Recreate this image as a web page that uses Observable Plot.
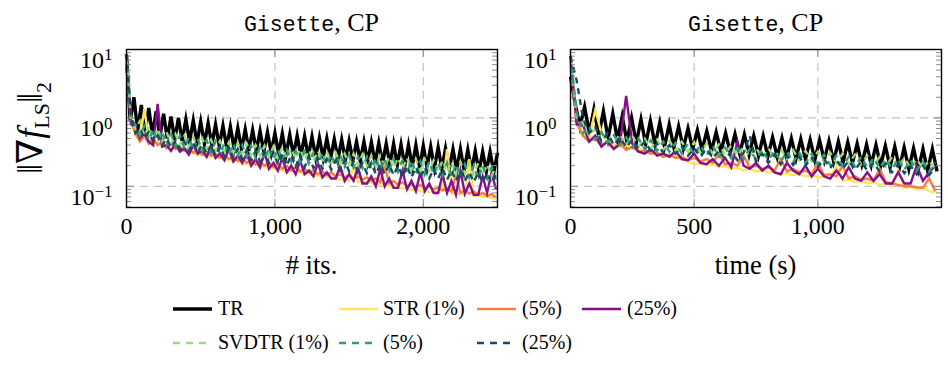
<!DOCTYPE html>
<html><head><meta charset="utf-8">
<script src="https://cdn.jsdelivr.net/npm/d3@7"></script>
<script src="https://cdn.jsdelivr.net/npm/@observablehq/plot@0.6"></script>
<style>
body{margin:0;background:#fff;}
#root{position:relative;width:948px;height:372px;color:#000;overflow:hidden;}
.abs{position:absolute;white-space:nowrap;}
.title{font-size:26px;line-height:30px;transform:translateX(-50%);}
.axlab{font-size:26.5px;line-height:30px;transform:translateX(-50%);}
.leg{font-size:20px;line-height:24px;}
svg.sw{position:absolute;overflow:visible;}
</style></head>
<body><div id="root"></div>
<script>
// ---------- data ----------
const SERIES_NAMES = ["TR","STR (1%)","STR (5%)","STR (25%)","SVDTR (1%)","SVDTR (5%)","SVDTR (25%)"];
const COLORS = ["#000000","#fde55e","#ff7b3a","#84108a","#a3d96b","#2c9e80","#13505f"];
const LEGEND_TEXT = ["TR","STR (1%)","(5%)","(25%)","SVDTR (1%)","(5%)","(25%)"];
const Y_MAJOR_TICKS = [0.1, 1, 10];
const Y_MINOR_TICKS = [0.05,0.06,0.07,0.08,0.09,0.2,0.3,0.4,0.5,0.6,0.7,0.8,0.9,2,3,4,5,6,7,8,9];
const X_TICKS_ITS = [0, 1000, 2000];
const X_TICKS_TIME = [0, 500, 1000];
// sampling steps (iterations / seconds between logged points)
const STEP_TR_ITS = 25, STEP_ITS = 30, STEP_TR_TIME = 19, STEP_TIME = 25;

// ----- left panel: vs iterations -----
const TR_ITS = [8.5,0.9,2.0,0.65,1.55,0.6,1.4,0.56,1.25,0.53,1.15,0.5,1.05,0.48,1.0,0.46,0.95,0.45,0.92,0.43,
0.88,0.42,0.84,0.40,0.80,0.39,0.77,0.37,0.74,0.36,0.71,0.35,0.68,0.34,0.66,0.33,0.64,0.32,0.62,0.31,
0.60,0.30,0.59,0.29,0.57,0.285,0.55,0.28,0.54,0.27,0.53,0.265,0.51,0.26,0.50,0.255,0.49,0.25,0.48,0.245,
0.46,0.24,0.45,0.235,0.45,0.23,0.44,0.22,0.43,0.215,0.42,0.21,0.42,0.205,0.41,0.20,0.40,0.195,0.40,0.19,
0.39,0.19,0.38,0.185,0.37,0.18,0.36,0.18,0.35,0.175,0.35,0.17,0.34,0.17,0.33,0.165,0.32,0.165,0.32,0.16,0.31];
const STR1_ITS = [7.5,0.85,0.55,0.48,1.35,0.5,0.42,0.45,0.38,0.4,0.35,0.37,0.33,0.34,0.3,0.31,0.28,0.3,0.27,0.28,
0.26,0.27,0.24,0.25,0.23,0.24,0.21,0.22,0.2,0.21,0.19,0.2,0.18,0.185,0.17,0.175,0.16,0.17,0.155,0.16,
0.15,0.155,0.14,0.145,0.135,0.14,0.13,0.135,0.125,0.13,0.12,0.2,0.115,0.12,0.11,0.115,0.105,0.11,0.1,0.105,
0.095,0.1,0.092,0.095,0.088,0.09,0.085,0.088,0.082,0.085,0.08,0.09,0.35,0.08,0.076,0.08,0.075,0.25,0.072,0.074,
0.07,0.072,0.067,0.065];
const STR5_ITS = [7.0,0.9,0.6,0.45,0.55,0.42,0.5,0.4,0.45,0.36,0.42,0.35,0.38,0.33,0.36,0.31,0.34,0.29,0.32,0.28,
0.3,0.26,0.29,0.25,0.27,0.235,0.26,0.22,0.25,0.21,0.23,0.2,0.22,0.19,0.21,0.18,0.2,0.17,0.19,0.165,
0.18,0.16,0.17,0.15,0.165,0.145,0.16,0.14,0.15,0.135,0.145,0.13,0.14,0.125,0.135,0.12,0.13,0.115,0.2,0.11,
0.12,0.105,0.115,0.1,0.11,0.097,0.105,0.093,0.1,0.09,0.096,0.087,0.093,0.084,0.15,0.08,0.088,0.078,0.084,0.075,
0.08,0.072,0.077,0.07];
const STR25_ITS = [5.5,0.8,0.75,0.5,0.6,0.45,0.4,1.6,0.38,0.4,0.33,0.42,0.32,0.36,0.29,0.4,0.3,0.33,0.27,0.38,
0.26,0.3,0.24,0.35,0.23,0.28,0.22,0.3,0.2,0.25,0.19,0.32,0.18,0.22,0.17,0.26,0.16,0.2,0.15,0.24,
0.15,0.17,0.14,0.22,0.135,0.16,0.13,0.13,0.2,0.12,0.15,0.12,0.19,0.11,0.11,0.14,0.1,0.18,0.1,0.13,
0.095,0.095,0.17,0.09,0.12,0.085,0.16,0.085,0.11,0.08,0.08,0.15,0.08,0.12,0.075,0.17,0.078,0.11,0.075,0.075,
0.14,0.08,0.16,0.09];
const SVD1_ITS = [7.5,1.0,0.7,0.9,0.55,0.75,0.5,0.7,0.45,0.62,0.42,0.58,0.4,0.55,0.38,0.52,0.36,0.5,0.35,0.48,
0.33,0.46,0.32,0.44,0.31,0.43,0.3,0.42,0.29,0.4,0.28,0.39,0.27,0.38,0.26,0.37,0.255,0.36,0.25,0.35,
0.24,0.34,0.235,0.33,0.23,0.32,0.22,0.31,0.215,0.3,0.21,0.3,0.205,0.29,0.2,0.28,0.195,0.28,0.19,0.27,
0.185,0.26,0.18,0.26,0.175,0.25,0.17,0.25,0.17,0.24,0.165,0.24,0.16,0.23,0.155,0.23,0.155,0.22,0.15,0.22,
0.145,0.21,0.14,0.2];
const SVD5_ITS = [8.0,0.95,0.8,0.55,0.75,0.48,0.68,0.45,0.62,0.41,0.58,0.38,0.55,0.36,0.52,0.34,0.5,0.33,0.47,0.31,
0.45,0.3,0.43,0.29,0.42,0.28,0.4,0.27,0.39,0.26,0.37,0.25,0.36,0.245,0.35,0.24,0.34,0.23,0.33,0.225,
0.32,0.22,0.31,0.21,0.3,0.205,0.29,0.2,0.29,0.195,0.28,0.19,0.27,0.185,0.27,0.18,0.26,0.175,0.25,0.17,
0.25,0.165,0.24,0.16,0.24,0.155,0.23,0.15,0.23,0.15,0.22,0.145,0.22,0.14,0.21,0.14,0.21,0.135,0.2,0.13,
0.2,0.13,0.19,0.125];
const SVD25_ITS = [8.5,1.1,0.6,0.7,0.5,0.62,0.45,0.55,0.4,0.5,0.37,0.47,0.35,0.45,0.33,0.43,0.31,0.41,0.3,0.4,
0.28,0.38,0.27,0.37,0.26,0.35,0.25,0.34,0.24,0.33,0.23,0.32,0.22,0.31,0.21,0.3,0.2,0.29,0.195,0.28,
0.19,0.27,0.185,0.26,0.18,0.25,0.175,0.24,0.17,0.24,0.165,0.23,0.16,0.22,0.155,0.22,0.15,0.21,0.15,0.21,
0.145,0.2,0.14,0.2,0.135,0.19,0.135,0.19,0.13,0.18,0.13,0.18,0.125,0.17,0.12,0.17,0.12,0.16,0.115,0.16,
0.115,0.155,0.11,0.15];

// ----- right panel: vs time (s) -----
const TR_TIME = [4.0,1.6,0.75,1.45,0.6,1.35,0.55,1.25,0.5,1.15,0.48,1.05,0.45,1.0,0.43,0.95,0.41,0.9,0.4,0.85,
0.38,0.8,0.37,0.75,0.36,0.7,0.35,0.66,0.34,0.64,0.33,0.62,0.32,0.6,0.31,0.58,0.3,0.57,0.29,0.55,
0.28,0.54,0.275,0.52,0.27,0.51,0.26,0.5,0.255,0.49,0.25,0.48,0.245,0.47,0.24,0.46,0.23,0.45,0.225,0.44,
0.22,0.42,0.21,0.41,0.205,0.4,0.2,0.39,0.19,0.38,0.185,0.37,0.18,0.36,0.175,0.35,0.17,0.35,0.165];
const STR1_TIME = [7.0,0.9,0.6,0.5,1.3,0.6,0.45,0.42,0.38,0.4,0.35,0.36,0.32,0.33,0.3,0.3,0.27,0.28,0.25,0.23,
0.21,0.22,0.2,0.21,0.19,0.2,0.18,0.185,0.17,0.18,0.165,0.17,0.16,0.165,0.15,0.155,0.145,0.15,0.14,0.145,
0.135,0.14,0.13,0.2,0.12,0.125,0.115,0.12,0.11,0.115,0.105,0.11,0.1,0.17,0.095,0.1,0.09,0.095,0.085,0.08];
const STR5_TIME = [6.5,0.85,0.55,0.45,0.5,0.4,0.45,0.36,0.42,0.34,0.38,0.32,0.33,0.3,0.31,0.27,0.29,0.26,0.27,0.24,
0.26,0.23,0.25,0.22,0.3,0.21,0.22,0.2,0.28,0.19,0.2,0.18,0.19,0.17,0.25,0.165,0.18,0.16,0.17,0.15,
0.22,0.145,0.15,0.14,0.2,0.13,0.14,0.125,0.13,0.12,0.18,0.115,0.11,0.105,0.1,0.1,0.097,0.095,0.13,0.085];
const STR25_TIME = [8.0,0.8,0.8,0.45,0.55,0.38,0.45,0.35,0.42,2.1,0.42,0.32,0.3,0.35,0.28,0.3,0.27,0.33,0.25,0.24,
0.3,0.22,0.21,0.25,0.2,0.26,0.19,0.45,0.2,0.18,0.22,0.17,0.2,0.16,0.15,0.22,0.17,0.15,0.2,0.14,
0.18,0.14,0.13,0.17,0.13,0.19,0.13,0.12,0.16,0.12,0.15,0.11,0.11,0.16,0.11,0.11,0.2,0.12,0.16,0.2];
const SVD1_TIME = [7.5,1.0,0.85,0.55,0.7,0.45,0.6,0.42,0.58,0.4,0.55,0.38,0.5,0.36,0.48,0.34,0.46,0.33,0.45,0.32,
0.44,0.31,0.42,0.3,0.41,0.29,0.4,0.28,0.38,0.27,0.37,0.26,0.36,0.26,0.35,0.25,0.34,0.24,0.33,0.235,
0.32,0.23,0.31,0.22,0.3,0.215,0.29,0.21,0.28,0.2,0.27,0.195,0.27,0.19,0.26,0.185,0.25,0.18,0.24,0.18];
const SVD5_TIME = [8.0,1.2,0.6,0.75,0.48,0.62,0.44,0.56,0.4,0.52,0.37,0.5,0.35,0.47,0.33,0.45,0.32,0.43,0.3,0.42,
0.29,0.4,0.28,0.39,0.27,0.37,0.26,0.36,0.25,0.35,0.245,0.34,0.24,0.33,0.23,0.32,0.225,0.31,0.22,0.3,
0.21,0.29,0.205,0.28,0.2,0.27,0.195,0.27,0.19,0.26,0.185,0.25,0.18,0.25,0.175,0.24,0.17,0.23,0.165,0.22];
const SVD25_TIME = [8.0,3.5,1.0,0.6,0.75,0.45,0.6,0.4,0.52,0.37,0.48,0.35,0.45,0.33,0.42,0.31,0.4,0.3,0.38,0.28,
0.36,0.27,0.35,0.26,0.33,0.25,0.32,0.24,0.31,0.55,0.23,0.3,0.22,0.29,0.21,0.28,0.205,0.27,0.2,0.26,
0.19,0.25,0.185,0.24,0.18,0.235,0.175,0.23,0.17,0.22,0.165,0.215,0.16,0.21,0.155,0.2,0.15,0.2,0.145,0.19];

// ---------- build ----------
const SERIF = '"Liberation Serif", Tinos, "Times New Roman", "DejaVu Serif", serif';
const MONO = '"Liberation Mono", Cousine, "Courier New", "DejaVu Sans Mono", monospace';
const toPts = (vals, step) => vals.map((v, i) => ({x: i * step, y: v}));
const DASH = "6 5";
const GRID = {stroke: "#c4c4c4", strokeOpacity: 1, strokeDasharray: "8 6", strokeWidth: 1.2};
const TICK = {stroke: "#8c8c8c", strokeWidth: 1};

function lineMarks(list) {
  return list.map(([vals, step], k) => Plot.line(toPts(vals, step), {
    x: "x", y: "y", stroke: COLORS[k],
    strokeWidth: k === 0 ? 3.4 : 2.4,
    strokeDasharray: k >= 4 ? DASH : null,
    strokeLinejoin: "miter", strokeMiterlimit: 6, strokeLinecap: "butt"
  }));
}

function panel({xDomain, xTicks, list, width, marginLeft, marginRight}) {
  const H = 290, MT = 49, MB = 83;
  const W = width - marginLeft - marginRight, PH = H - MT - MB;
  const fmtY = d => ({0.1: "10^-1", 1: "10^0", 10: "10^1"})[d];
  const svg = Plot.plot({
    width, height: H, marginTop: MT, marginBottom: MB, marginLeft, marginRight,
    style: {fontFamily: SERIF, fontSize: "24px", color: "#000", background: "transparent", overflow: "visible"},
    x: {domain: xDomain, label: null},
    y: {type: "log", domain: [0.049, 10], label: null},
    marks: [
      Plot.ruleY(Y_MAJOR_TICKS.slice(0, 2), GRID),
      Plot.ruleX(xTicks.slice(1), GRID),
      ...lineMarks(list),
      // inward minor / major ticks
      Plot.ruleY(Y_MINOR_TICKS, {...TICK, insetRight: W - 5}),
      Plot.ruleY(Y_MINOR_TICKS, {...TICK, insetLeft: W - 5}),
      Plot.ruleY(Y_MAJOR_TICKS, {...TICK, insetRight: W - 8}),
      Plot.ruleY(Y_MAJOR_TICKS, {...TICK, insetLeft: W - 8}),
      Plot.ruleX(xTicks, {...TICK, insetBottom: PH - 8}),
      Plot.ruleX(xTicks, {...TICK, insetTop: PH - 8}),
      Plot.axisY(Y_MAJOR_TICKS, {anchor: "left", tickSize: 0, tickFormat: fmtY, tickPadding: 14, label: null, fontSize: 24}),
      Plot.axisX(xTicks, {anchor: "bottom", tickSize: 0, tickPadding: 9, tickFormat: d3.format(","), label: null, fontSize: 24}),
      Plot.frame({stroke: "#000", strokeWidth: 1.4})
    ]
  });
  // render exponents as raised text
  svg.querySelectorAll('text').forEach(t => {
    const s = t.textContent;
    if (s && s.startsWith("10^")) {
      const exp = s.slice(3).replace("-", "\u2212");
      t.textContent = "10";
      const ts = document.createElementNS("http://www.w3.org/2000/svg", "tspan");
      ts.setAttribute("dy", "-0.45em");
      ts.setAttribute("font-size", "17");
      ts.textContent = exp;
      t.appendChild(ts);
      t.setAttribute("dy", "0.45em");
    }
  });
  return svg;
}

const root = document.getElementById("root");
function place(el, left, top) { el.style.position = "absolute"; el.style.left = left + "px"; el.style.top = top + "px"; root.appendChild(el); }

const left = panel({
  xDomain: [0, 2500], xTicks: X_TICKS_ITS, width: 500, marginLeft: 126, marginRight: 3,
  list: [[TR_ITS, STEP_TR_ITS],[STR1_ITS, STEP_ITS],[STR5_ITS, STEP_ITS],[STR25_ITS, STEP_ITS],[SVD1_ITS, STEP_ITS],[SVD5_ITS, STEP_ITS],[SVD25_ITS, STEP_ITS]]
});
place(left, 0, 0);
const right = panel({
  xDomain: [0, 1500], xTicks: X_TICKS_TIME, width: 448, marginLeft: 70, marginRight: 7,
  list: [[TR_TIME, STEP_TR_TIME],[STR1_TIME, STEP_TIME],[STR5_TIME, STEP_TIME],[STR25_TIME, STEP_TIME],[SVD1_TIME, STEP_TIME],[SVD5_TIME, STEP_TIME],[SVD25_TIME, STEP_TIME]]
});
place(right, 500, 0);

function html(str, cls, left, top) {
  const d = document.createElement("div"); d.className = "abs " + cls; d.innerHTML = str;
  d.style.left = left + "px"; d.style.top = top + "px"; d.style.fontFamily = SERIF;
  root.appendChild(d);
  d.querySelectorAll(".mono").forEach(m => { m.style.fontFamily = MONO; m.style.fontSize = "21.5px"; });
  return d;
}
html('<span class="mono">Gisette</span>, CP', "title", 311.5, 8);
html('<span class="mono">Gisette</span>, CP', "title", 755.6, 8);
html('# its.', "axlab", 311.5, 250);
html('time (s)', "axlab", 755.6, 250);
const yl = html('\u2016\u2207<i>f</i><sub style="font-size:22px;vertical-align:-7px;font-style:normal">LS</sub>\u2016<sub style="font-size:22px;vertical-align:-9px">2</sub>', "", 37, 128);
yl.style.fontSize = "36px"; yl.style.transform = "translate(-50%,-50%) rotate(-90deg)"; yl.style.lineHeight = "40px";

// legend
const LEG_POS = [[173, 309],[339, 309],[477, 309],[582, 309],[173, 343],[339, 343],[477, 343]];
LEG_POS.forEach(([x, y], k) => {
  const ns = "http://www.w3.org/2000/svg";
  const s = document.createElementNS(ns, "svg");
  s.setAttribute("class", "sw"); s.setAttribute("width", 40); s.setAttribute("height", 8);
  s.style.left = x + "px"; s.style.top = (y - 4) + "px";
  const l = document.createElementNS(ns, "line");
  l.setAttribute("x1", 0); l.setAttribute("x2", k >= 4 ? 36 : 39); l.setAttribute("y1", 4); l.setAttribute("y2", 4);
  l.setAttribute("stroke", COLORS[k]); l.setAttribute("stroke-width", k === 0 ? 3.5 : 2.6);
  if (k >= 4) l.setAttribute("stroke-dasharray", "7 6");
  s.appendChild(l); root.appendChild(s);
  html(LEGEND_TEXT[k], "leg", x + 45 + (k === 1 || k === 5 ? -1 : 0), y - 13);
});
</script></body></html>
